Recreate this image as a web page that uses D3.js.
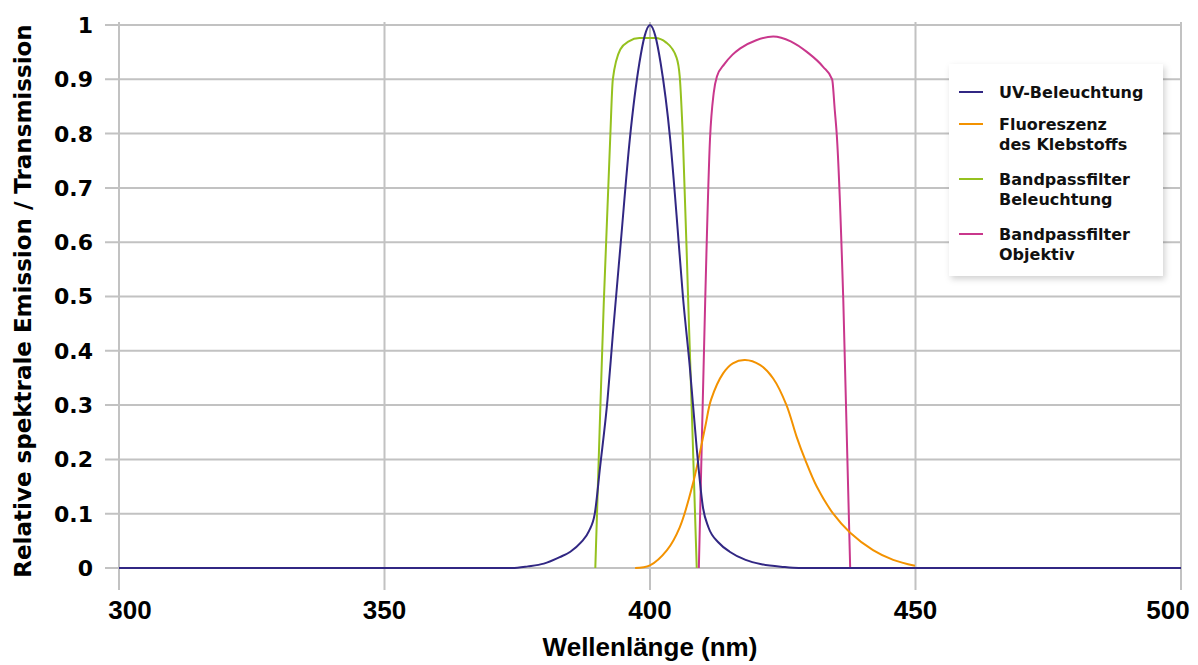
<!DOCTYPE html>
<html>
<head>
<meta charset="utf-8">
<script src="https://cdn.jsdelivr.net/npm/d3@7"></script>
<style>
  body { margin: 0; background: #fff; }
  svg { display: block; }
</style>
</head>
<body>
<svg id="chart"></svg>
<script>
const width = 1198;
const height = 665;

// tick values
const xTicks = [300, 350, 400, 450, 500];
const yTicks = [0, 0.1, 0.2, 0.3, 0.4, 0.5, 0.6, 0.7, 0.8, 0.9, 1];

// UV-Beleuchtung
const uvNm  = [300, 374, 377, 380, 383, 385, 387, 388.5, 389.6, 390.6, 392, 393, 394.5, 396.2, 398, 399, 400, 401, 402, 403.8, 405, 406.2, 407.5, 408.8, 410, 411, 413, 415, 418, 421, 425, 428, 500];
const uvVal = [0, 0, 0.003, 0.008, 0.02, 0.03, 0.047, 0.068, 0.1, 0.186, 0.31, 0.43, 0.6, 0.79, 0.93, 0.98, 1, 0.98, 0.93, 0.79, 0.65, 0.5, 0.37, 0.22, 0.11, 0.075, 0.046, 0.03, 0.015, 0.007, 0.002, 0, 0];

// Fluoreszenz des Klebstoffs
const fluoNm  = [397.2, 400, 403.2, 405.6, 408.1, 410.4, 411.5, 413.8, 415.6, 417.9, 420.7, 423.2, 425.7, 427.6, 429.2, 431.4, 434.5, 437.7, 442, 445.8, 449.9];
const fluoVal = [0, 0.005, 0.033, 0.075, 0.156, 0.26, 0.31, 0.359, 0.377, 0.383, 0.374, 0.349, 0.3, 0.242, 0.2, 0.15, 0.1, 0.065, 0.033, 0.015, 0.004];

// Bandpassfilter Beleuchtung
const bpBelNm  = [389.7, 390.5, 391.3, 392.5, 393, 394.4, 396, 398, 401, 403, 405, 405.6, 406.2, 407.2, 408, 408.8];
const bpBelVal = [0, 0.25, 0.49, 0.79, 0.9, 0.955, 0.97, 0.976, 0.976, 0.968, 0.94, 0.905, 0.79, 0.49, 0.25, 0];

// Bandpassfilter Objektiv
const bpObjNm  = [409.2, 409.8, 410.4, 411.3, 412, 412.6, 414, 415.5, 417, 420, 423.2, 426.5, 429.6, 432.6, 434.3, 434.8, 435.2, 436.4, 437.7];
const bpObjVal = [0, 0.25, 0.494, 0.79, 0.875, 0.905, 0.928, 0.945, 0.957, 0.972, 0.979, 0.97, 0.95, 0.923, 0.9, 0.843, 0.794, 0.494, 0];

const seriesNames = ["UV-Beleuchtung", "Fluoreszenz\ndes Klebstoffs", "Bandpassfilter\nBeleuchtung", "Bandpassfilter\nObjektiv"];
const seriesColors = ["#312783", "#f39200", "#95c11f", "#c9378c"];

const series = [
  { name: seriesNames[0], color: seriesColors[0], nm: uvNm, val: uvVal, curve: d3.curveMonotoneX },
  { name: seriesNames[1], color: seriesColors[1], nm: fluoNm, val: fluoVal, curve: d3.curveCatmullRom.alpha(0.5) },
  { name: seriesNames[2], color: seriesColors[2], nm: bpBelNm, val: bpBelVal, curve: d3.curveMonotoneX },
  { name: seriesNames[3], color: seriesColors[3], nm: bpObjNm, val: bpObjVal, curve: d3.curveMonotoneX }
];

const svg = d3.select("#chart")
  .attr("width", width)
  .attr("height", height);

const x = d3.scaleLinear().domain([300, 500]).range([119, 1181]);
const y = d3.scaleLinear().domain([0, 1]).range([568, 25]);

// grid
const grid = svg.append("g").attr("stroke", "#c2c2c2").attr("stroke-width", 2);

grid.selectAll(".hgrid")
  .data(yTicks)
  .enter()
  .append("line")
  .attr("x1", 105)
  .attr("x2", x(500))
  .attr("y1", d => y(d))
  .attr("y2", d => y(d));

grid.selectAll(".vgrid")
  .data(xTicks)
  .enter()
  .append("line")
  .attr("x1", d => x(d))
  .attr("x2", d => x(d))
  .attr("y1", y(1) - 3)
  .attr("y2", y(0) + 22);

// y tick labels
svg.append("g")
  .selectAll("text")
  .data(yTicks)
  .enter()
  .append("text")
  .attr("x", 93)
  .attr("y", d => y(d))
  .attr("dy", "0.36em")
  .attr("text-anchor", "end")
  .style("font-family", "'DejaVu Sans', sans-serif")
  .style("font-weight", "bold")
  .style("font-size", "22px")
  .text(d => d === 0 || d === 1 ? d : d3.format(".1f")(d));

// x tick labels
svg.append("g")
  .selectAll("text")
  .data(xTicks)
  .enter()
  .append("text")
  .attr("x", d => Math.min(Math.max(x(d), 130), 1168))
  .attr("y", 619)
  .attr("text-anchor", "middle")
  .style("font-family", "'Liberation Sans', Arial, sans-serif")
  .style("font-weight", "bold")
  .style("font-size", "26px")
  .text(d => d);

// axis titles
svg.append("text")
  .attr("x", 650)
  .attr("y", 656)
  .attr("text-anchor", "middle")
  .style("font-family", "'Liberation Sans', Arial, sans-serif")
  .style("font-weight", "bold")
  .style("font-size", "26px")
  .text("Wellenlänge (nm)");

svg.append("text")
  .attr("transform", "translate(31, 301) rotate(-90)")
  .attr("text-anchor", "middle")
  .style("font-family", "'DejaVu Sans', sans-serif")
  .style("font-weight", "bold")
  .style("font-size", "23px")
  .text("Relative spektrale Emission / Transmission");

// curves
const drawOrder = [2, 3, 1, 0];
svg.append("g")
  .selectAll("path")
  .data(drawOrder.map(i => series[i]))
  .enter()
  .append("path")
  .attr("fill", "none")
  .attr("stroke", d => d.color)
  .attr("stroke-width", 2)
  .attr("d", d => d3.line()
    .x(p => x(p[0]))
    .y(p => y(p[1]))
    .curve(d.curve)(d.nm.map((n, i) => [n, d.val[i]])));

// legend
const defs = svg.append("defs");
const filter = defs.append("filter").attr("id", "shadow")
  .attr("x", "-10%").attr("y", "-10%").attr("width", "125%").attr("height", "125%");
filter.append("feDropShadow")
  .attr("dx", 2).attr("dy", 3).attr("stdDeviation", 3)
  .attr("flood-color", "#000").attr("flood-opacity", 0.18);

const legend = svg.append("g").attr("transform", "translate(949, 64)");

legend.append("rect")
  .attr("width", 214)
  .attr("height", 212)
  .attr("fill", "#fff")
  .attr("filter", "url(#shadow)");

const legendRows = [28, 60, 115, 170];

const items = legend.selectAll(".item")
  .data(series)
  .enter()
  .append("g")
  .attr("transform", (d, i) => `translate(0, ${legendRows[i]})`);

items.append("line")
  .attr("x1", 10)
  .attr("x2", 34)
  .attr("stroke", d => d.color)
  .attr("stroke-width", 2);

items.append("text")
  .style("font-family", "'DejaVu Sans', sans-serif")
  .style("font-weight", "bold")
  .style("font-size", "16px")
  .attr("fill", "#111")
  .selectAll("tspan")
  .data(d => d.name.split("\n"))
  .enter()
  .append("tspan")
  .attr("x", 50)
  .attr("y", (d, i) => i * 20)
  .attr("dy", "0.36em")
  .text(d => d);
</script>
</body>
</html>
